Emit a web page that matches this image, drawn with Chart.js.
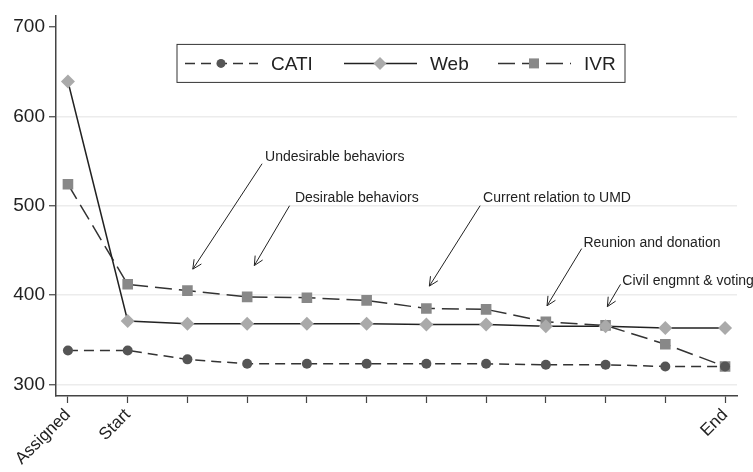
<!DOCTYPE html>
<html>
<head>
<meta charset="utf-8">
<script src="https://cdn.jsdelivr.net/npm/chart.js@4/dist/chart.umd.min.js"></script>
<style>
  html, body { margin: 0; padding: 0; background: #fff; }
  #wrap { width: 753px; height: 472px; }
</style>
</head>
<body>
<div id="wrap"><canvas id="modeChart"></canvas></div>
<script>
// Categories along the questionnaire (only the ends are labelled)
const stepLabels = ['Assigned', 'Start', '', '', '', '', '', '', '', '', '', 'End'];
const yTicks = [300, 400, 500, 600, 700];

// Respondents remaining at each step, per survey mode
const catiValues = [338, 338, 328, 323, 323, 323, 323, 323, 322, 322, 320, 320];
const webValues  = [639, 371, 368, 368, 368, 368, 367, 367, 365, 365, 363, 363];
const ivrValues  = [524, 412, 405, 398, 397, 394, 385, 384, 370, 366, 345, 320];

// Section notes: text anchor and arrow tip, in (step index, value) units
const noteTexts = ['Undesirable behaviors', 'Desirable behaviors', 'Current relation to UMD',
                   'Reunion and donation', 'Civil engmnt & voting'];
const noteTextAt  = [[3.30, 554], [3.80, 508], [6.95, 508], [8.63, 458], [9.28, 416]];
const noteFrom    = [[3.25, 547], [3.71, 500], [6.90, 500], [8.60, 452], [9.25, 412]];
const noteTip     = [[2.09, 429], [3.12, 433], [6.05, 410], [8.02, 388], [9.03, 387]];

const FONT = "'Liberation Sans', Arial, Helvetica, sans-serif";

function toPoints(values) {
    return values.map((v, i) => ({ x: i, y: v }));
}

// Draws the arrows with their labels
const notesPlugin = {
    id: 'notes',
    afterDatasetsDraw(chart) {
        const ctx = chart.ctx;
        const xs = chart.scales.x, ys = chart.scales.y;
        ctx.save();
        ctx.strokeStyle = '#222';
        ctx.fillStyle = '#222';
        ctx.lineWidth = 1;
        ctx.font = '14px ' + FONT;
        ctx.textAlign = 'left';
        ctx.textBaseline = 'middle';
        noteTexts.forEach((txt, i) => {
            const x0 = xs.getPixelForValue(noteFrom[i][0]), y0 = ys.getPixelForValue(noteFrom[i][1]);
            const x1 = xs.getPixelForValue(noteTip[i][0]), y1 = ys.getPixelForValue(noteTip[i][1]);
            ctx.beginPath();
            ctx.moveTo(x0, y0);
            ctx.lineTo(x1, y1);
            const ang = Math.atan2(y1 - y0, x1 - x0);
            const len = 10, spread = 0.45;
            ctx.moveTo(x1 - len * Math.cos(ang - spread), y1 - len * Math.sin(ang - spread));
            ctx.lineTo(x1, y1);
            ctx.lineTo(x1 - len * Math.cos(ang + spread), y1 - len * Math.sin(ang + spread));
            ctx.stroke();
            ctx.fillText(txt, xs.getPixelForValue(noteTextAt[i][0]), ys.getPixelForValue(noteTextAt[i][1]));
        });
        ctx.restore();
    }
};

// Boxed legend with line sample + marker, like the original
const boxLegendPlugin = {
    id: 'boxLegend',
    afterDraw(chart) {
        const ctx = chart.ctx;
        const area = chart.chartArea;
        const left = area.left + 121, top = area.top + 29, w = 448, h = 38;
        const itemX = [left + 8, left + 167, left + 321];
        const cy = top + h / 2;
        ctx.save();
        ctx.fillStyle = '#fff';
        ctx.fillRect(left, top, w, h);
        ctx.strokeStyle = '#333';
        ctx.lineWidth = 1;
        ctx.strokeRect(left, top, w, h);
        chart.data.datasets.forEach((ds, i) => {
            const x0 = itemX[i];
            ctx.beginPath();
            ctx.setLineDash(ds.borderDash || []);
            ctx.strokeStyle = ds.borderColor;
            ctx.lineWidth = ds.borderWidth;
            ctx.moveTo(x0, cy);
            ctx.lineTo(x0 + 73, cy);
            ctx.stroke();
            ctx.setLineDash([]);
            ctx.fillStyle = ds.pointBackgroundColor;
            ctx.beginPath();
            if (ds.pointStyle === 'circle') {
                ctx.arc(x0 + 36, cy, 4.5, 0, Math.PI * 2);
            } else if (ds.pointStyle === 'rectRot') {
                ctx.moveTo(x0 + 36, cy - 6.5); ctx.lineTo(x0 + 42.5, cy);
                ctx.lineTo(x0 + 36, cy + 6.5); ctx.lineTo(x0 + 29.5, cy);
                ctx.closePath();
            } else {
                ctx.rect(x0 + 31, cy - 5, 10, 10);
            }
            ctx.fill();
            ctx.fillStyle = '#222';
            ctx.font = '19px ' + FONT;
            ctx.textAlign = 'left';
            ctx.textBaseline = 'middle';
            ctx.fillText(ds.label, x0 + 86, cy + 1);
        });
        ctx.restore();
    }
};

const config = {
    type: 'line',
    data: {
        datasets: [
            {
                label: 'CATI',
                data: toPoints(catiValues),
                borderColor: '#333',
                borderWidth: 1.5,
                borderDash: [10, 6],
                pointStyle: 'circle',
                pointRadius: 5,
                pointBackgroundColor: '#555',
                pointBorderColor: '#555',
                pointBorderWidth: 0
            },
            {
                label: 'Web',
                data: toPoints(webValues),
                borderColor: '#222',
                borderWidth: 1.5,
                pointStyle: 'rectRot',
                pointRadius: 7,
                pointBackgroundColor: '#aaa',
                pointBorderColor: '#aaa',
                pointBorderWidth: 0
            },
            {
                label: 'IVR',
                data: toPoints(ivrValues),
                borderColor: '#333',
                borderWidth: 1.5,
                borderDash: [17, 7],
                pointStyle: 'rect',
                pointRadius: 7.5,
                pointBackgroundColor: '#888',
                pointBorderColor: '#888',
                pointBorderWidth: 0
            }
        ]
    },
    options: {
        responsive: true,
        maintainAspectRatio: false,
        animation: false,
        layout: { padding: { top: 8, right: 16, left: 0, bottom: 0 } },
        plugins: {
            legend: { display: false },
            tooltip: { enabled: false }
        },
        scales: {
            x: {
                type: 'linear',
                min: -0.2,
                max: 11.2,
                afterBuildTicks: scale => { scale.ticks = stepLabels.map((_, i) => ({ value: i })); },
                afterFit: scale => { scale.height = 76; },
                grid: { drawOnChartArea: false, tickLength: 7, tickColor: '#444', tickWidth: 1.2 },
                border: { color: '#444', width: 1.5 },
                ticks: {
                    autoSkip: false,
                    minRotation: 45,
                    maxRotation: 45,
                    padding: 2,
                    color: '#222',
                    font: { family: FONT, size: 17 },
                    callback: v => stepLabels[v]
                }
            },
            y: {
                min: 287,
                max: 713,
                afterBuildTicks: scale => { scale.ticks = yTicks.map(v => ({ value: v })); },
                afterFit: scale => { scale.width = 56; },
                grid: {
                    color: c => (c.tick && c.tick.value === 700 ? 'rgba(0,0,0,0)' : '#ececec'),
                    lineWidth: 1.5,
                    tickLength: 7,
                    tickColor: '#444',
                    tickWidth: 1.2
                },
                border: { color: '#444', width: 1.5 },
                ticks: {
                    padding: 4,
                    color: '#222',
                    font: { family: FONT, size: 19 }
                }
            }
        }
    },
    plugins: [notesPlugin, boxLegendPlugin]
};

window.onload = function() {
    const ctx = document.getElementById('modeChart').getContext('2d');
    window.modeChart = new Chart(ctx, config);
};
</script>
</body>
</html>
